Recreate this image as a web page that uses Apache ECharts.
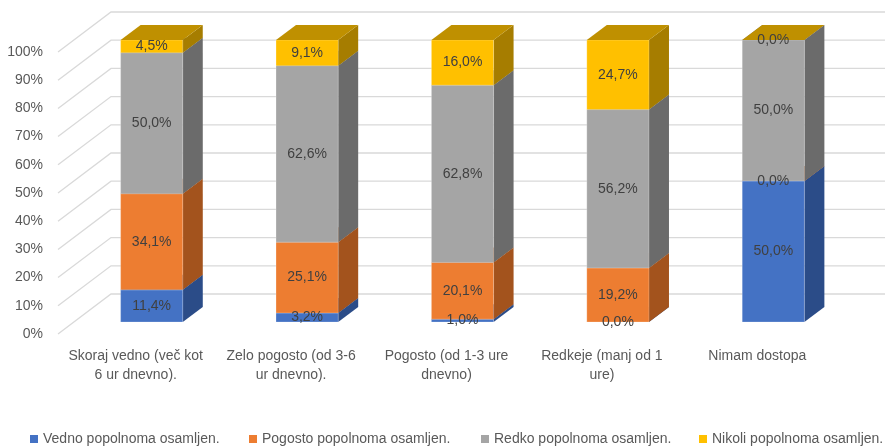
<!DOCTYPE html>
<html>
<head>
<meta charset="utf-8">
<style>
  html, body { margin: 0; padding: 0; background: #ffffff; }
  #chart { width: 885px; height: 447px; }
</style>
<script src="https://cdn.jsdelivr.net/npm/echarts@6/dist/echarts.min.js"></script>
</head>
<body>
<div id="chart"></div>
<script>
// Categories (how often the respondent is online)
const categories = [
  'Skoraj vedno (več kot\n6 ur dnevno).',
  'Zelo pogosto (od 3-6\nur dnevno).',
  'Pogosto (od 1-3 ure\ndnevno)',
  'Redkeje (manj od 1\nure)',
  'Nimam dostopa'
];

// Series names
const seriesNames = [
  'Vedno popolnoma osamljen.',
  'Pogosto popolnoma osamljen.',
  'Redko popolnoma osamljen.',
  'Nikoli popolnoma osamljen.'
];

// Shares (%) per category
const vedno   = [11.4, 3.2, 1.0, 0.0, 50.0];
const pogosto = [34.1, 25.1, 20.1, 19.2, 0.0];
const redko   = [50.0, 62.6, 62.8, 56.2, 50.0];
const nikoli  = [4.5, 9.1, 16.0, 24.7, 0.0];

// Value-axis ticks
const yTicks = [0, 10, 20, 30, 40, 50, 60, 70, 80, 90, 100];

const seriesValues = [vedno, pogosto, redko, nikoli];

// Face colours: front, side, top
const palette = [
  { front: '#4472C4', side: '#2B4C88', top: '#325AA0' },
  { front: '#ED7D31', side: '#A3531D', top: '#BF6424' },
  { front: '#A5A5A5', side: '#6B6B6B', top: '#848484' },
  { front: '#FFC000', side: '#A67D00', top: '#BF9000' }
];

// 3D projection: offset of the bar front plane from the floor front edge,
// the depth of a bar and the depth of the whole floor (back wall).
const FRONT = [16, -12];
const DEPTH = [20, -15];
const WALL = [53, -40];

const fmtPct = v => v.toFixed(1).replace('.', ',') + '%';

// Build 100%-stacked segments [categoryIndex, lower, upper, rawValue]
const totals = categories.map((_, i) => seriesValues.reduce((s, arr) => s + arr[i], 0));
const stacked = seriesValues.map(() => []);
categories.forEach((_, i) => {
  let acc = 0;
  seriesValues.forEach((arr, s) => {
    const share = arr[i] / totals[i] * 100;
    stacked[s].push([i, acc, acc + share, arr[i]]);
    acc += share;
  });
});

function makeSegmentRenderer(colors) {
  return function (params, api) {
    const cat = api.value(0);
    const lo = api.value(1);
    const hi = api.value(2);
    const raw = api.value(3);
    const band = api.size([1, 0])[0];
    const w = band * 0.4;
    const pLo = api.coord([cat, lo]);
    const pHi = api.coord([cat, hi]);
    const x = pLo[0] - w / 2 + FRONT[0];
    const yB = pLo[1] + FRONT[1];
    const yT = pHi[1] + FRONT[1];
    const dx = DEPTH[0], dy = DEPTH[1];
    const children = [];
    if (yB - yT > 0.01) {
      children.push({
        type: 'polygon',
        shape: { points: [[x + w, yT], [x + w + dx, yT + dy], [x + w + dx, yB + dy], [x + w, yB]] },
        style: { fill: colors.side }
      });
      children.push({
        type: 'rect',
        shape: { x: x, y: yT, width: w, height: yB - yT },
        style: { fill: colors.front, stroke: 'rgba(255,255,255,0.22)', lineWidth: 1 }
      });
    }
    children.push({
      type: 'polygon',
      shape: { points: [[x, yT], [x + dx, yT + dy], [x + w + dx, yT + dy], [x + w, yT]] },
      style: { fill: colors.top }
    });
    children.push({
      type: 'text',
      z2: 10,
      style: {
        x: x + w / 2,
        y: (yT + yB) / 2,
        text: fmtPct(raw),
        fill: '#404040',
        font: '14px "Liberation Sans", Arial, sans-serif',
        align: 'center',
        verticalAlign: 'middle'
      }
    });
    return { type: 'group', children: children };
  };
}

function renderGridLine(params, api) {
  const v = api.value(0);
  const cs = params.coordSys;
  const y = api.coord([0, v])[1];
  const x0 = cs.x;
  return {
    type: 'polyline',
    shape: {
      points: [
        [x0, y],
        [x0 + WALL[0], y + WALL[1]],
        [x0 + cs.width + WALL[0], y + WALL[1]]
      ]
    },
    style: { stroke: '#D9D9D9', lineWidth: 1.3, fill: null }
  };
}

const chart = echarts.init(document.getElementById('chart'), null, { renderer: 'canvas' });

const legendLefts = [30, 249, 481, 699];

const option = {
  animation: false,
  backgroundColor: '#ffffff',
  textStyle: { fontFamily: '"Liberation Sans", Arial, sans-serif' },
  grid: { left: 58, top: 52, width: 777, height: 282, containLabel: false },
  xAxis: {
    type: 'category',
    data: categories,
    axisLine: { show: false },
    axisTick: { show: false },
    splitLine: { show: false },
    axisLabel: {
      color: '#595959',
      fontSize: 14,
      lineHeight: 19,
      margin: 13,
      interval: 0
    }
  },
  yAxis: {
    type: 'value',
    min: 0,
    max: 100,
    interval: 10,
    axisLine: { show: false },
    axisTick: { show: false },
    splitLine: { show: false },
    axisLabel: {
      color: '#595959',
      fontSize: 14,
      margin: 15,
      formatter: '{value}%'
    }
  },
  legend: seriesNames.map((name, i) => ({
    data: [{ name: name, icon: 'rect' }],
    left: legendLefts[i],
    top: 432,
    itemWidth: 8,
    itemHeight: 8,
    padding: 0,
    textStyle: { color: '#595959', fontSize: 14 },
    selectedMode: false
  })),
  series: [
    {
      type: 'custom',
      name: 'grid',
      z: 1,
      silent: true,
      data: yTicks.map(v => [v]),
      encode: { y: 0 },
      renderItem: renderGridLine
    }
  ].concat(seriesNames.map((name, s) => ({
    type: 'custom',
    name: name,
    z: 2,
    itemStyle: { color: palette[s].front },
    data: stacked[s],
    encode: { x: 0, y: [1, 2] },
    renderItem: makeSegmentRenderer(palette[s])
  })))
};

chart.setOption(option);
</script>
</body>
</html>
